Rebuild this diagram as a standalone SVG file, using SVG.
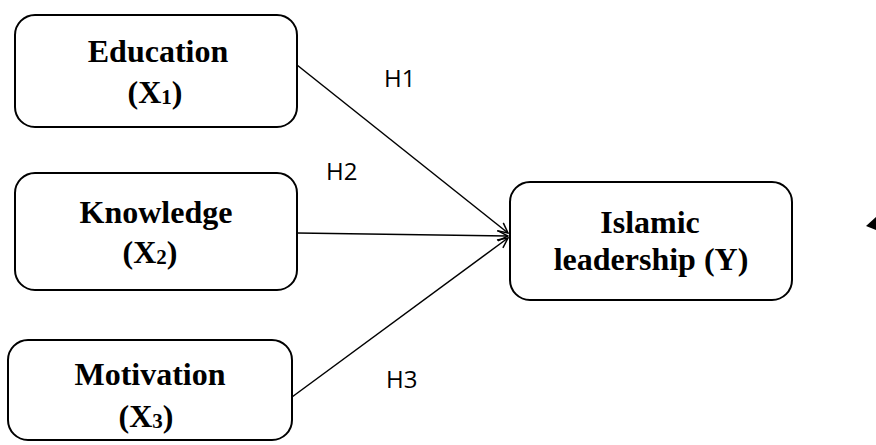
<svg xmlns="http://www.w3.org/2000/svg" width="876" height="445" viewBox="0 0 876 445">
<style>
.box{fill:#fff;stroke:#000;stroke-width:2}
.t{font-family:"Liberation Serif",serif;font-weight:bold;font-size:32px;text-anchor:middle;fill:#000}
.sub{font-size:21px}
.h{font-family:"Open Sans","Liberation Sans",sans-serif;font-size:24px;fill:#000}
.c{stroke:#000;stroke-width:1.5;fill:none}
</style>
<defs>
<marker id="arr" viewBox="0 0 12 12" refX="11" refY="6" markerWidth="12" markerHeight="12" markerUnits="userSpaceOnUse" orient="auto">
<path d="M1,1 L11,6 L1,11" fill="none" stroke="#000" stroke-width="1.5"/>
</marker>
</defs>
<rect width="876" height="445" fill="#fff"/>
<g id="connectors">
<line class="c" x1="297" y1="65" x2="508" y2="233" marker-end="url(#arr)"/>
<line class="c" x1="297" y1="233" x2="508" y2="236" marker-end="url(#arr)"/>
<line class="c" x1="292" y1="397" x2="508" y2="238" marker-end="url(#arr)"/>
<text class="h" x="384" y="87">H1</text>
<text class="h" x="326" y="180">H2</text>
<text class="h" x="386" y="388">H3</text>
</g>
<g id="education">
<rect class="box" x="15" y="15" width="282" height="112" rx="20"/>
<text class="t" x="158" y="62">Education</text>
<text class="t" x="155" y="103">(X<tspan class="sub" dy="1">1</tspan><tspan dy="-1">)</tspan></text>
</g>
<g id="knowledge">
<rect class="box" x="15" y="173" width="282" height="117" rx="20"/>
<text class="t" x="156" y="223">Knowledge</text>
<text class="t" x="150" y="263">(X<tspan class="sub" dy="1">2</tspan><tspan dy="-1">)</tspan></text>
</g>
<g id="motivation">
<rect class="box" x="8" y="340" width="284" height="100" rx="20"/>
<text class="t" x="150" y="385">Motivation</text>
<text class="t" x="146" y="427">(X<tspan class="sub" dy="1">3</tspan><tspan dy="-1">)</tspan></text>
</g>
<g id="islamic">
<rect class="box" x="510" y="182" width="282" height="118" rx="20"/>
<text class="t" x="650" y="233">Islamic</text>
<text class="t" x="651" y="270">leadership (Y)</text>
</g>
<polygon points="876,217 866,226 876,230" fill="#000"/>
</svg>
